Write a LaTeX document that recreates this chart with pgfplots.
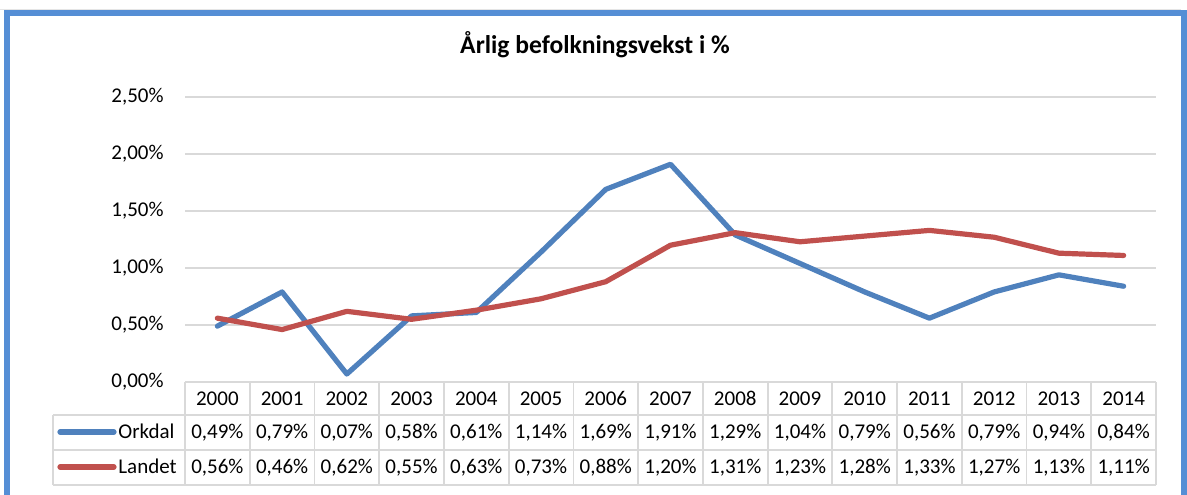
\documentclass[border=0pt]{standalone}
\usepackage{pgfplots}
\usepackage{pgfplotstable}
\pgfplotsset{compat=1.18}
\usepackage{fontspec}
\setmainfont{Carlito}
\definecolor{orkc}{HTML}{4F81BD}
\definecolor{lanc}{HTML}{C0504D}
\definecolor{gridc}{HTML}{D9D9D9}
\definecolor{framec}{HTML}{558ED5}
\pgfplotstableread{
idx year ork lan
0 2000 0.49 0.56
1 2001 0.79 0.46
2 2002 0.07 0.62
3 2003 0.58 0.55
4 2004 0.61 0.63
5 2005 1.14 0.73
6 2006 1.69 0.88
7 2007 1.91 1.20
8 2008 1.29 1.31
9 2009 1.04 1.23
10 2010 0.79 1.28
11 2011 0.56 1.33
12 2012 0.79 1.27
13 2013 0.94 1.13
14 2014 0.84 1.11
}\data
\begin{document}
\fontsize{10.5}{12}\selectfont
\begin{tikzpicture}[x=0.5pt,y=0.5pt]
\path[use as bounding box] (0,0) rectangle (1187,494);
% outer frame
\draw[color=gray!20, line width=0.6pt] (0,484.5) -- (1181,484.5);
\draw[framec, line width=3pt] (7,-5) -- (7,480.5) -- (1184,480.5) -- (1184,-5);
% title
\node[anchor=base, font=\fontsize{12.8}{15}\selectfont\bfseries] at (595,440) {Årlig befolkningsvekst i \%};
\begin{axis}[
  at={(92.5pt,56pt)}, anchor=south west,
  scale only axis, width=485.5pt, height=142.5pt,
  xmin=-0.5, xmax=14.5, ymin=0, ymax=2.5,
  axis line style={draw=none},
  tick style={draw=none},
  ytick={0,0.5,1,1.5,2,2.5},
  ymajorgrids, major grid style={gridc, line width=0.9pt},
  xtick=data,
  xticklabels from table={\data}{year},
  xticklabel style={anchor=base, inner sep=0pt, yshift=-11.8pt},
  yticklabel style={anchor=east, inner sep=0pt, xshift=-10.5pt},
  yticklabel={\pgfmathprintnumber[fixed,fixed zerofill,precision=2,use comma,assume math mode=true]{\tick}\%},
  clip=false,
]
\addplot[orkc, line width=2.6pt, line join=round, line cap=round] table[x=idx, y=ork] {\data};
\addplot[lanc, line width=2.6pt, line join=round, line cap=round] table[x=idx, y=lan] {\data};
\pgfplotsinvokeforeach{0,...,14}{
  \node[anchor=base, inner sep=0pt] at (axis cs:#1,0) [yshift=-28.25pt] {\pgfplotstablegetelem{#1}{ork}\of\data\pgfmathprintnumber[fixed,fixed zerofill,precision=2,use comma,assume math mode=true]{\pgfplotsretval}\%};
  \node[anchor=base, inner sep=0pt] at (axis cs:#1,0) [yshift=-45.75pt] {\pgfplotstablegetelem{#1}{lan}\of\data\pgfmathprintnumber[fixed,fixed zerofill,precision=2,use comma,assume math mode=true]{\pgfplotsretval}\%};
}
\end{axis}
% data table grid
\foreach \k in {0,...,15} {
  \draw[gridc, line width=0.9pt] ({185+64.733*\k},112) -- ({185+64.733*\k},9);
}
\draw[gridc, line width=0.9pt] (53,79) -- (1156,79);
\draw[gridc, line width=0.9pt] (53,44) -- (1156,44);
\draw[gridc, line width=0.9pt] (53,9) -- (1156,9);
\draw[gridc, line width=0.9pt] (53,79) -- (53,9);
% legend keys
\draw[orkc, line width=2.6pt, line cap=round] (60,62) -- (114,62);
\draw[lanc, line width=2.6pt, line cap=round] (60,27) -- (114,27);
\node[anchor=base west, inner sep=0pt] at (118,55.5) {Orkdal};
\node[anchor=base west, inner sep=0pt] at (118,20.5) {Landet};
\end{tikzpicture}
\end{document}
